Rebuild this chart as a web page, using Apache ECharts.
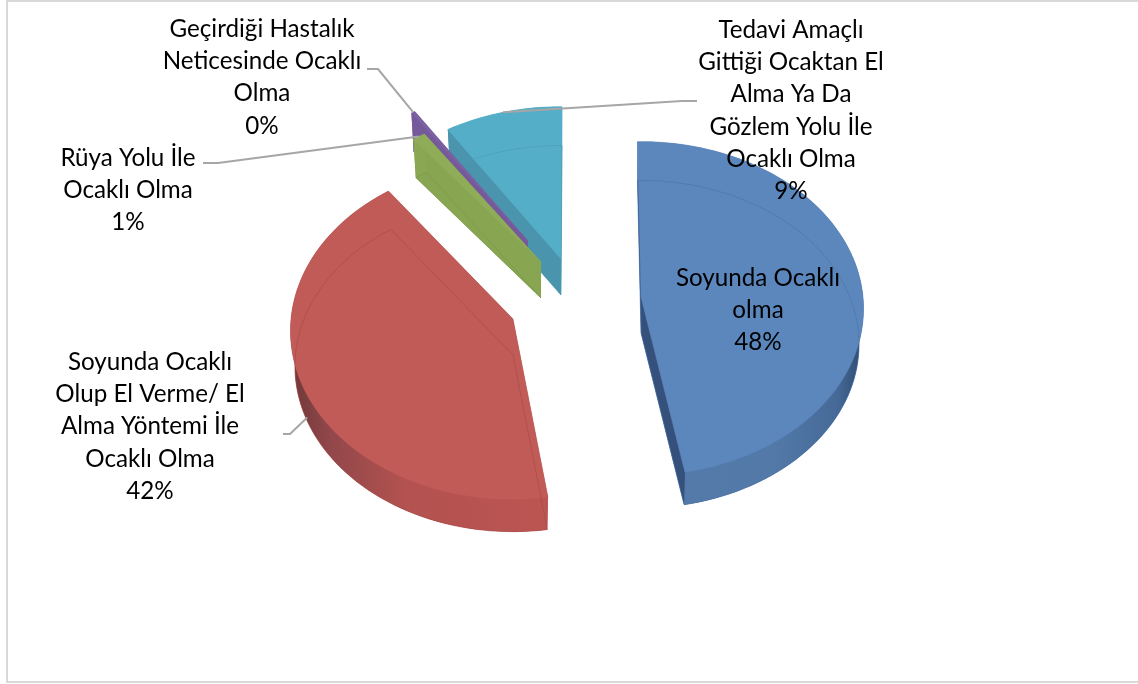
<!DOCTYPE html>
<html><head><meta charset="utf-8">
<style>html,body{margin:0;padding:0;background:#fff}#c{width:1138px;height:684px}</style>
<script src="https://cdn.jsdelivr.net/npm/echarts@6/dist/echarts.min.js"></script>
</head><body><div id="c"></div>
<script>
// ---- data ----
const categories = ['Soyunda Ocaklı olma','Soyunda Ocaklı Olup El Verme/ El Alma Yöntemi İle Ocaklı Olma','Rüya Yolu İle Ocaklı Olma','Geçirdiği Hastalık Neticesinde Ocaklı Olma','Tedavi Amaçlı Gittiği Ocaktan El Alma Ya Da Gözlem Yolu İle Ocaklı Olma'];
const values = [47.6, 42.3, 1.0, 0.3, 8.8];
const labelLines = [['Soyunda Ocaklı','olma'],['Soyunda Ocaklı','Olup El Verme/ El','Alma Yöntemi İle','Ocaklı Olma'],['Rüya Yolu İle','Ocaklı Olma'],['Geçirdiği Hastalık','Neticesinde Ocaklı','Olma'],['Tedavi Amaçlı','Gittiği Ocaktan El','Alma Ya Da','Gözlem Yolu İle','Ocaklı Olma']];

// ---- layout / style ----
const GEO = {R:222, Ry:163, p:0.07, depth:36, start:-1, lower:0.98};
const apex = [[641,297],[513,319],[541,262],[528,241],[561,259]];
const ryScale = [1.02,1.03,1,1,1];
// small perspective corrections of the drawn angle, in degrees [start,end]
const angleTweak = [[0,-1],[1.2,1],[0,0],[0,0],[0,1.3]];
const labelPos = [[758,278],[150,362],[128,158],[262,29],[791,30]];
const palette = [
 {top:'#5c87bd',wall:'#35507a',line:'#4a75ac',g:[[0,'#557aa9'],[.6,'#5279a8'],[.88,'#466a98'],[1,'#2f4a70']]},
 {top:'#c05b57',wall:'#a54e4b',line:'#a94a47',g:[[0,'#6e3838'],[.15,'#91474a'],[.45,'#b35250'],[1,'#bb5552']]},
 {top:'#8fad58',wall:'#88a552',line:'#7b9648',g:[[0,'#8aa753'],[1,'#8aa753']]},
 {top:'#7b60a2',wall:'#75599a',line:'#654c88',g:[[0,'#75599a'],[1,'#75599a']]},
 {top:'#55aec8',wall:'#4b94ad',line:'#489cb5',g:[[0,'#4b94ad'],[1,'#4b94ad']]}
];
// label-side polyline of each leader, and where on the slice it lands (default: slice mid-angle on the top rim)
const leaders = [null,
 {pts:[[283,434],[290,434]],angle:247,depthFrac:0.9},
 {pts:[[203,163],[218,163]]},
 {pts:[[367,69],[378,69]]},
 {pts:[[697,101],[682,101]]}];
const drawOrder = [4,3,2,1,0];
const FONT = 'Lato, Carlito, "Open Sans", sans-serif', FS = 24.2, LH = 32.3;

const total = values.reduce((a,b)=>a+b,0);
const angles = []; let acc = GEO.start;
values.forEach((v,i)=>{const s=v/total*360; angles.push([acc+angleTweak[i][0],acc+s+angleTweak[i][1]]); acc+=s;});

function pt(i,deg,r,dz){
  const k=dz?GEO.lower:1;
  const t=deg*Math.PI/180,u=Math.sin(t)*r*k,v=-Math.cos(t)*r*k,w=1/(1-GEO.p*v);
  return [apex[i][0]+GEO.R*u*w, apex[i][1]+GEO.Ry*ryScale[i]*v*w+(dz||0)];
}
function arc(i,a,b,dz){const n=Math.max(2,Math.ceil((b-a)/2)),o=[];for(let k=0;k<=n;k++)o.push(pt(i,a+(b-a)*k/n,1,dz));return o;}
function renderItem(params,api){
  const i=api.value(0), [a,b]=angles[i], c=palette[i], d=GEO.depth, kids=[];
  const top=arc(i,a,b,0), bot=arc(i,a,b,d);
  const ap=pt(i,a,0,0), apB=pt(i,a,0,d);
  const poly=(points,fill,extra)=>kids.push({type:'polygon',shape:{points},style:Object.assign({fill,stroke:null},extra||{})});
  poly([apB].concat(bot),c.wall);
  poly([ap,apB,bot[0],top[0]],c.wall);
  poly([ap,apB,bot[bot.length-1],top[top.length-1]],c.wall);
  const rim=top.concat(bot.slice().reverse());
  const grad=new echarts.graphic.LinearGradient(0,0,1,0,c.g.map(s=>({offset:s[0],color:s[1]})));
  poly(rim,grad);
  poly([ap].concat(top),c.top,{stroke:c.top,lineWidth:0.5});
  kids.push({type:'polyline',shape:{points:[bot[0],apB,bot[bot.length-1]]},style:{fill:null,stroke:c.line,lineWidth:1,opacity:.65}});
  kids.push({type:'polyline',shape:{points:bot},style:{fill:null,stroke:c.line,lineWidth:1,opacity:.65}});
  return {type:'group',children:kids};
}
function leaderItem(params,api){
  const i=api.value(0), L=leaders[i]; if(!L) return {type:'group',children:[]};
  const [a,b]=angles[i], ang=L.angle!==undefined?L.angle:(a+b)/2;
  const end=pt(i,ang,1,(L.depthFrac||0)*GEO.depth);
  return {type:'polyline',shape:{points:L.pts.concat([end])},style:{fill:null,stroke:'#a6a6a6',lineWidth:2}};
}
function labelItem(params,api){
  const i=api.value(0), pct=Math.round(values[i]/total*100)+'%', lines=labelLines[i].concat([pct]);
  return {type:'group',children:lines.map((t,k)=>({type:'text',style:{text:t,x:labelPos[i][0],y:labelPos[i][1]+k*LH,align:'center',verticalAlign:'middle',fill:'#000',font:FS+'px '+FONT}}))};
}
const chart=echarts.init(document.getElementById('c'),null,{renderer:'canvas'});
const orderData=drawOrder.map(i=>[i,values[i],categories[i]]);
chart.setOption({
  animation:false,
  backgroundColor:'#fff',
  graphic:[{type:'rect',z:-1,shape:{x:7,y:1,width:1140,height:681},style:{fill:'#fff',stroke:'#d9d9d9',lineWidth:2}}],
  series:[
   {type:'custom',name:'slices',coordinateSystem:'none',renderItem,data:orderData,z:2,clip:false},
   {type:'custom',name:'leaders',coordinateSystem:'none',renderItem:leaderItem,data:orderData,z:3,clip:false},
   {type:'custom',name:'labels',coordinateSystem:'none',renderItem:labelItem,data:orderData,z:4,clip:false}
  ]
});
</script></body></html>
